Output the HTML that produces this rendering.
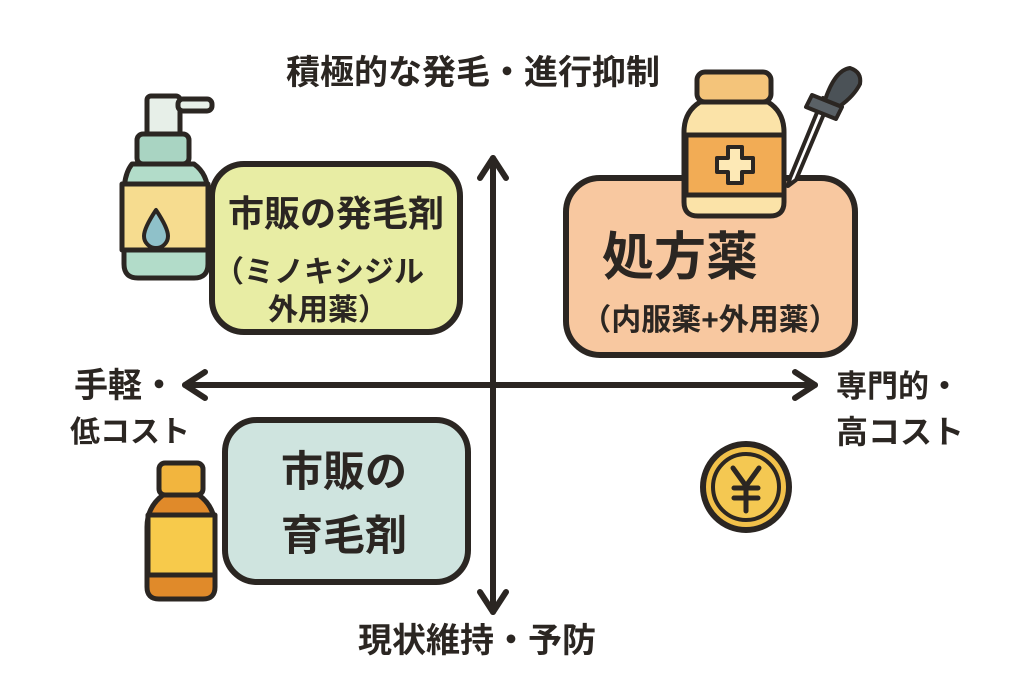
<!DOCTYPE html>
<html><head><meta charset="utf-8"><style>
body{margin:0;width:1024px;height:683px;background:#fff;overflow:hidden;font-family:"Liberation Sans","Noto Sans CJK JP",sans-serif;}
svg{position:absolute;left:0;top:0}
text{font-family:"Liberation Sans","Noto Sans CJK JP",sans-serif;fill:#2b2622;font-weight:bold}
</style></head><body>
<svg width="1024" height="683" viewBox="0 0 1024 683">
<g stroke="#2b2622" stroke-linecap="round" stroke-linejoin="round" fill="none">
<line x1="493" y1="158" x2="493" y2="612" stroke-width="6"/>
<polyline points="480,178 493,158 506,178" stroke-width="6"/>
<polyline points="480,592 493,612 506,592" stroke-width="6"/>
<line x1="185" y1="385" x2="815" y2="385" stroke-width="6"/>
<polyline points="205,372 185,385 205,398" stroke-width="6"/>
<polyline points="795,372 815,385 795,398" stroke-width="6"/>
<rect x="212" y="164" width="248" height="168" rx="32" fill="#e8eda4" stroke-width="6"/>
<rect x="566" y="178" width="289" height="177" rx="34" fill="#f8c8a0" stroke-width="6"/>
<rect x="225" y="420" width="243" height="162" rx="32" fill="#cfe4df" stroke-width="6"/>
<rect x="147" y="96" width="33" height="40" rx="4" fill="#e7efe8" stroke-width="5"/>
<rect x="178" y="99" width="34" height="12" rx="5" fill="#e7efe8" stroke-width="5"/>
<rect x="137" y="134" width="52" height="30" rx="6" fill="#a9d4c2" stroke-width="5"/>
<path d="M132 164 h62 q14 10 14 30 v70 q0 14 -14 14 h-56 q-14 0 -14 -14 v-70 q0 -20 8 -30z" fill="#b2dcc9" stroke-width="5"/>
<rect x="122" y="184" width="86" height="66" fill="#f6dc8f" stroke-width="5"/>
<path d="M156 210 q-12 18 -12 26 a12 12 0 0 0 24 0 q0 -8 -12 -26z" fill="#8fc1c9" stroke-width="4"/>
<rect x="697" y="72" width="74" height="30" rx="8" fill="#f4c47a" stroke-width="5"/>
<path d="M700 102 h68 q16 10 16 30 v70 q0 14 -14 14 h-72 q-14 0 -14 -14 v-70 q0 -20 16 -30z" fill="#fbe3a8" stroke-width="5"/>
<rect x="686" y="135" width="98" height="60" fill="#f2ac55" stroke-width="5"/>
<path d="M728 147 h14 v11 h11 v14 h-11 v11 h-14 v-11 h-11 v-14 h11z" fill="#fde9b6" stroke-width="4"/>
<path d="M823 98 l-33 80 l-2 8 l8 -6 l33 -78z" fill="#fff" stroke-width="4"/>
<path d="M812 95 l30 12 l-6 12 l-30 -12z" fill="#5a6166" stroke-width="4"/>
<path d="M825 100 q10 -30 25 -32 q12 4 10 16 q-6 12 -20 22z" fill="#4b5257" stroke-width="4"/>
<rect x="159" y="463" width="44" height="32" rx="6" fill="#f2b53e" stroke-width="5"/>
<path d="M163 495 h36 q16 12 16 32 v60 q0 12 -12 12 h-44 q-12 0 -12 -12 v-60 q0 -20 16 -32z" fill="#e08a2a" stroke-width="5"/>
<rect x="148" y="515" width="67" height="60" fill="#f7ca4b" stroke-width="5"/>
<circle cx="746" cy="487" r="43" fill="#f2c14a" stroke-width="6"/>
<circle cx="746" cy="487" r="33" fill="#f4c852" stroke-width="4"/>
<path d="M733 468 l13 18 l13 -18 M746 486 v25 M734 488 h24 M734 498 h24" stroke-width="5"/>
</g>
<text x="473" y="84" font-size="34" text-anchor="middle">積極的な発毛・進行抑制</text>
<text x="477" y="652" font-size="34" text-anchor="middle">現状維持・予防</text>
<text x="74" y="397" font-size="34">手軽・</text>
<text x="70" y="442" font-size="30">低コスト</text>
<text x="836" y="397" font-size="31">専門的・</text>
<text x="836" y="443" font-size="32">高コスト</text>
<text x="336" y="226" font-size="36" text-anchor="middle">市販の発毛剤</text>
<text x="214" y="282" font-size="30">（ミノキシジル</text>
<text x="268" y="320" font-size="30">外用薬）</text>
<text x="680" y="275" font-size="52" text-anchor="middle">処方薬</text>
<text x="710" y="330" font-size="30" text-anchor="middle">（内服薬+外用薬）</text>
<text x="344" y="486" font-size="42" text-anchor="middle">市販の</text>
<text x="344" y="550" font-size="42" text-anchor="middle">育毛剤</text>
</svg>
</body></html>
